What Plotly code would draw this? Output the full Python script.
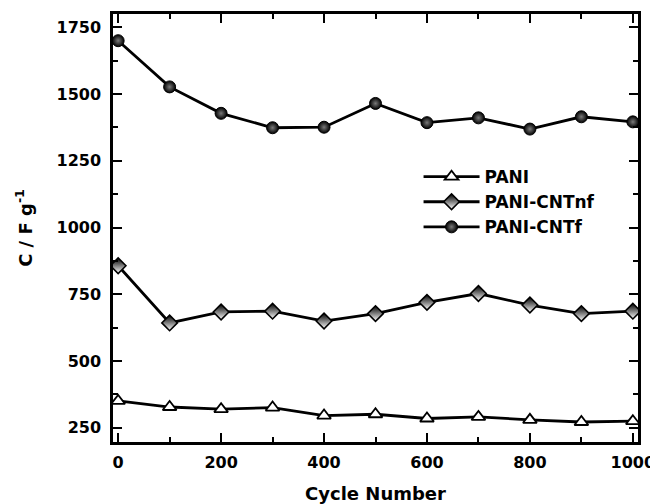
import plotly.graph_objects as go

cycles = [0, 100, 200, 300, 400, 500, 600, 700, 800, 900, 1000]
pani = [351, 328, 320, 326, 296, 301, 285, 291, 280, 272, 275]
pani_cntnf = [857, 643, 684, 687, 650, 678, 720, 753, 710, 678, 687]
pani_cntf = [1700, 1527, 1428, 1374, 1376, 1465, 1393, 1411, 1369, 1415, 1396]

x_title = "Cycle Number"
y_title = "C / F g<sup>-1</sup>"

FONT = "DejaVu Sans, Liberation Sans, Arial, sans-serif"

fig = go.Figure()
fig.add_trace(go.Scatter(
    x=cycles, y=pani, name="PANI", mode="lines+markers",
    line=dict(color="black", width=2.8),
    marker=dict(symbol="triangle-up", size=12, color="white",
                line=dict(color="black", width=1.8)),
))
fig.add_trace(go.Scatter(
    x=cycles, y=pani_cntnf, name="PANI-CNTnf", mode="lines+markers",
    line=dict(color="black", width=2.8),
    marker=dict(symbol="diamond", size=12, color="black",
                gradient=dict(type="vertical", color="white"),
                line=dict(color="black", width=1.6)),
))
fig.add_trace(go.Scatter(
    x=cycles, y=pani_cntf, name="PANI-CNTf", mode="lines+markers",
    line=dict(color="black", width=2.8),
    marker=dict(symbol="circle", size=12, color="black",
                gradient=dict(type="radial", color="#7a7a7a"),
                line=dict(color="black", width=1)),
))

axis_common = dict(
    showline=True, linecolor="black", linewidth=2.5, mirror="allticks",
    ticks="inside", ticklen=9, tickwidth=2, tickcolor="black",
    showgrid=False, zeroline=False, automargin=False,
    tickfont=dict(family=FONT, size=16, color="black", weight="bold"),
)

fig.update_xaxes(
    range=[-10, 1010], tick0=0, dtick=200, ticklabelstandoff=4,
    minor=dict(ticks="inside", ticklen=5, tickwidth=2, tickcolor="black", dtick=100),
    title=dict(text=x_title, standoff=18,
               font=dict(family=FONT, size=18, color="black", weight="bold")),
    **axis_common,
)
fig.update_yaxes(
    range=[197, 1800], tick0=250, dtick=250, ticklabelstandoff=6,
    minor=dict(ticks="inside", ticklen=5, tickwidth=2, tickcolor="black", dtick=125),
    title=dict(text=y_title, standoff=20,
               font=dict(family=FONT, size=18, color="black", weight="bold")),
    **axis_common,
)

# the page body has an 8px margin, so the figure is 8px smaller and shifted
fig.update_layout(
    width=650, height=496,
    margin=dict(l=105, r=20, t=6, b=62),
    paper_bgcolor="white", plot_bgcolor="white",
    showlegend=True,
    legend=dict(
        x=0.582, y=0.661, xanchor="left", yanchor="top",
        bgcolor="rgba(0,0,0,0)", itemwidth=56, tracegroupgap=0,
        font=dict(family=FONT, size=17, color="black", weight="bold"),
    ),
)

fig.write_html("out.html")
